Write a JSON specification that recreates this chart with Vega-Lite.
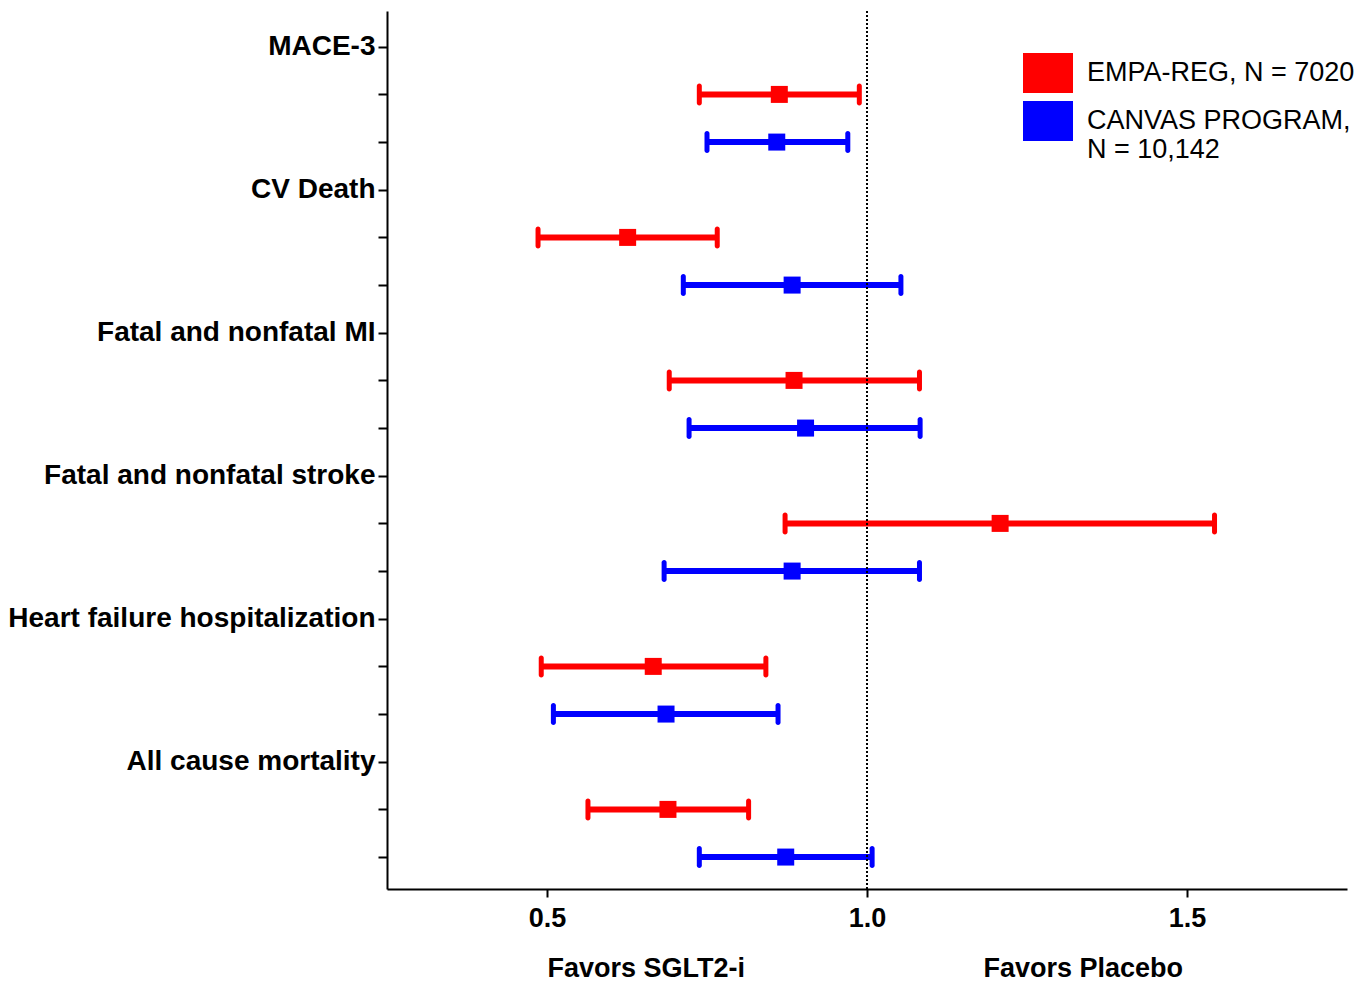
{
  "$schema": "https://vega.github.io/schema/vega-lite/v6.json",
  "width": 960,
  "height": 878,
  "autosize": {"type": "none"},
  "padding": {"left": 387, "top": 11, "right": 22, "bottom": 94},
  "background": "white",
  "config": {
    "view": {"stroke": null},
    "font": "Liberation Sans"
  },
  "datasets": {
    "results": [
      {"outcome": "MACE-3", "trial": "EMPA-REG, N = 7020", "row": 1, "est": 0.863, "lo": 0.738, "hi": 0.988},
      {"outcome": "MACE-3", "trial": "CANVAS PROGRAM, N = 10,142", "row": 2, "est": 0.859, "lo": 0.750, "hi": 0.970},
      {"outcome": "CV Death", "trial": "EMPA-REG, N = 7020", "row": 4, "est": 0.626, "lo": 0.486, "hi": 0.766},
      {"outcome": "CV Death", "trial": "CANVAS PROGRAM, N = 10,142", "row": 5, "est": 0.883, "lo": 0.713, "hi": 1.053},
      {"outcome": "Fatal and nonfatal MI", "trial": "EMPA-REG, N = 7020", "row": 7, "est": 0.886, "lo": 0.691, "hi": 1.082},
      {"outcome": "Fatal and nonfatal MI", "trial": "CANVAS PROGRAM, N = 10,142", "row": 8, "est": 0.904, "lo": 0.722, "hi": 1.083},
      {"outcome": "Fatal and nonfatal stroke", "trial": "EMPA-REG, N = 7020", "row": 10, "est": 1.208, "lo": 0.872, "hi": 1.543},
      {"outcome": "Fatal and nonfatal stroke", "trial": "CANVAS PROGRAM, N = 10,142", "row": 11, "est": 0.883, "lo": 0.683, "hi": 1.082},
      {"outcome": "Heart failure hospitalization", "trial": "EMPA-REG, N = 7020", "row": 13, "est": 0.666, "lo": 0.491, "hi": 0.842},
      {"outcome": "Heart failure hospitalization", "trial": "CANVAS PROGRAM, N = 10,142", "row": 14, "est": 0.686, "lo": 0.510, "hi": 0.861},
      {"outcome": "All cause mortality", "trial": "EMPA-REG, N = 7020", "row": 16, "est": 0.689, "lo": 0.564, "hi": 0.815},
      {"outcome": "All cause mortality", "trial": "CANVAS PROGRAM, N = 10,142", "row": 17, "est": 0.873, "lo": 0.738, "hi": 1.008}
    ],
    "favors": [
      {"label": "Favors SGLT2-i", "est": 0.655, "row": 19.52},
      {"label": "Favors Placebo", "est": 1.338, "row": 19.52}
    ],
    "reference": [
      {"est": 1.0}
    ]
  },
  "layer": [
    {
      "data": {"name": "results"},
      "mark": {"type": "rule", "strokeWidth": 6},
      "encoding": {
        "x": {
          "field": "lo",
          "type": "quantitative",
          "scale": {"domain": [0.25, 1.75], "nice": false, "zero": false},
          "axis": {
            "values": [0.5, 1.0, 1.5],
            "format": ".1f",
            "title": null,
            "grid": false,
            "domainColor": "black",
            "domainWidth": 2,
            "tickColor": "black",
            "tickWidth": 2,
            "tickSize": 8,
            "labelFont": "Liberation Sans",
            "labelFontWeight": "bold",
            "labelFontSize": 27,
            "labelColor": "black",
            "labelPadding": 8,
            "labelFlush": false
          }
        },
        "x2": {"field": "hi"},
        "y": {
          "field": "row",
          "type": "quantitative",
          "scale": {"domain": [-0.75, 17.67], "nice": false, "zero": false, "reverse": true},
          "axis": {
            "values": [0, 1, 2, 3, 4, 5, 6, 7, 8, 9, 10, 11, 12, 13, 14, 15, 16, 17],
            "labelExpr": "datum.value == 0 ? 'MACE-3' : datum.value == 3 ? 'CV Death' : datum.value == 6 ? 'Fatal and nonfatal MI' : datum.value == 9 ? 'Fatal and nonfatal stroke' : datum.value == 12 ? 'Heart failure hospitalization' : datum.value == 15 ? 'All cause mortality' : ''",
            "title": null,
            "grid": false,
            "domainColor": "black",
            "domainWidth": 2,
            "tickColor": "black",
            "tickWidth": 2,
            "tickSize": 9,
            "labelFont": "Liberation Sans",
            "labelFontWeight": "bold",
            "labelFontSize": 28,
            "labelColor": "black",
            "labelPadding": 3,
            "labelLimit": 0,
            "labelOverlap": false,
            "labelBound": false,
            "labelFlush": false
          }
        },
        "stroke": {
          "field": "trial",
          "type": "nominal",
          "scale": {"domain": ["CANVAS PROGRAM, N = 10,142", "EMPA-REG, N = 7020"], "range": ["#0000FF", "#FF0000"]},
          "legend": null
        }
      }
    },
    {
      "data": {"name": "results"},
      "mark": {"type": "tick", "orient": "vertical", "size": 22, "thickness": 5, "cornerRadius": 2.5, "opacity": 1},
      "encoding": {
        "x": {"field": "lo", "type": "quantitative"},
        "y": {"field": "row", "type": "quantitative"},
        "fill": {
          "field": "trial",
          "type": "nominal",
          "scale": {"domain": ["CANVAS PROGRAM, N = 10,142", "EMPA-REG, N = 7020"], "range": ["#0000FF", "#FF0000"]},
          "legend": null
        }
      }
    },
    {
      "data": {"name": "results"},
      "mark": {"type": "tick", "orient": "vertical", "size": 22, "thickness": 5, "cornerRadius": 2.5, "opacity": 1},
      "encoding": {
        "x": {"field": "hi", "type": "quantitative"},
        "y": {"field": "row", "type": "quantitative"},
        "fill": {"field": "trial", "type": "nominal", "legend": null}
      }
    },
    {
      "data": {"name": "results"},
      "mark": {"type": "square", "size": 289, "opacity": 1, "filled": true},
      "encoding": {
        "x": {"field": "est", "type": "quantitative"},
        "y": {"field": "row", "type": "quantitative"},
        "color": {
          "field": "trial",
          "type": "nominal",
          "scale": {"domain": ["EMPA-REG, N = 7020", "CANVAS PROGRAM, N = 10,142"], "range": ["#FF0000", "#0000FF"]},
          "legend": {
            "title": null,
            "orient": "none",
            "legendX": 641,
            "legendY": 42,
            "symbolType": "M-1.25,-1H1.25V1H-1.25Z",
            "symbolSize": 1600,
            "symbolStrokeWidth": 0,
            "symbolOpacity": 1,
            "labelFont": "Liberation Sans",
            "labelFontSize": 27,
            "labelColor": "black",
            "labelOffset": 19,
            "labelLimit": 0,
            "rowPadding": 8,
            "labelExpr": "datum.label == 'CANVAS PROGRAM, N = 10,142' ? ['CANVAS PROGRAM,', 'N = 10,142'] : datum.label"
          }
        }
      }
    },
    {
      "data": {"name": "favors"},
      "mark": {"type": "text", "font": "Liberation Sans", "fontWeight": "bold", "fontSize": 27, "color": "black", "align": "center", "baseline": "alphabetic"},
      "encoding": {
        "x": {"field": "est", "type": "quantitative"},
        "y": {"field": "row", "type": "quantitative"},
        "text": {"field": "label"}
      }
    },
    {
      "data": {"name": "reference"},
      "mark": {"type": "rule", "color": "black", "strokeWidth": 2, "strokeDash": [2, 2]},
      "encoding": {
        "x": {"field": "est", "type": "quantitative"}
      }
    }
  ]
}
